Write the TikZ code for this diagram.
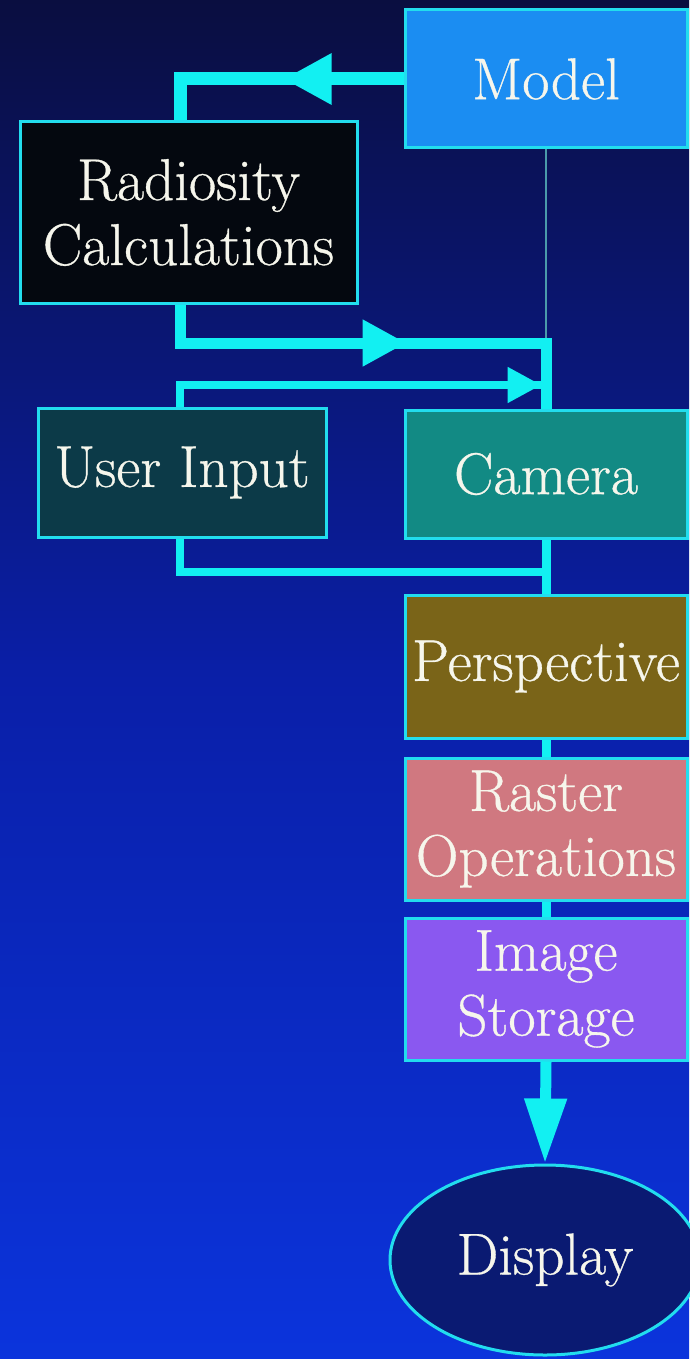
\documentclass[tikz,border=0pt]{standalone}
\usepackage{fontspec}
\newfontfamily\lblfont{Latin Modern Roman}[FakeBold=0.6]
\usetikzlibrary{arrows.meta,shapes.geometric,decorations.markings}
\definecolor{bgtop}{HTML}{0A0E40}
\definecolor{bgmid}{HTML}{0A1FA8}
\definecolor{bgbot}{HTML}{0B34DC}
\definecolor{cyanline}{HTML}{12F0F2}
\definecolor{boxedge}{HTML}{22DDEE}
\definecolor{thinline}{HTML}{4A9AAA}
\definecolor{txt}{HTML}{F6F6EC}
\definecolor{modelfill}{HTML}{1B8DF2}
\definecolor{radfill}{HTML}{04080F}
\definecolor{userfill}{HTML}{0C3A48}
\definecolor{camfill}{HTML}{128A84}
\definecolor{perspfill}{HTML}{7A6418}
\definecolor{rasterfill}{HTML}{D07880}
\definecolor{storfill}{HTML}{8A58F0}
\definecolor{dispfill}{HTML}{0A1A72}
\tikzset{
  lblfontstyle/.style={font=\lblfont\fontsize{59}{65}\selectfont},
  blockbox/.style={rectangle, draw=boxedge, line width=3pt, text=txt, align=center,
    inner sep=0pt, lblfontstyle},
  busline/.style={draw=cyanline, line width=#1},
  busline/.default=10pt,
  midarrow/.style 2 args={postaction={decorate}, decoration={markings,
    mark=at position #1 with {\arrow{Triangle[length=#2,width=#2]}}}},
}
\begin{document}
\begin{tikzpicture}[x=1pt,y=-1pt]
\useasboundingbox (0,0) rectangle (689,1359);
\fill[top color=bgtop, bottom color=bgbot, middle color=bgmid] (0,0) rectangle (689,1359);

% nodes
\node[blockbox, fill=modelfill, minimum width=282pt, minimum height=138pt] (model) at (546,79) {Model};
\node[blockbox, fill=radfill, minimum width=337pt, minimum height=181pt] (rad) at (188.5,212.5) {Radiosity\\Calculations};
\node[blockbox, fill=userfill, minimum width=288pt, minimum height=129pt] (user) at (182,472.5) {User Input};
\node[blockbox, fill=camfill, minimum width=282pt, minimum height=128pt] (cam) at (546,474) {Camera};
\node[blockbox, fill=perspfill, minimum width=282pt, minimum height=143pt] (persp) at (546,666.5) {Perspective};
\node[blockbox, fill=rasterfill, minimum width=282pt, minimum height=142pt] (raster) at (546,829) {Raster\\Operations};
\node[blockbox, fill=storfill, minimum width=282pt, minimum height=142pt] (stor) at (546,989) {Image\\Storage};
\node[ellipse, draw=boxedge, line width=3pt, fill=dispfill, text=txt, inner sep=0pt,
  minimum width=310pt, minimum height=190pt, lblfontstyle] (disp) at (545,1260) {Display};

% junctions
\coordinate (j1) at (546,343);
\coordinate (j2) at (546,385);
\coordinate (j3) at (546,572);

% connectors
\draw[draw=thinline, line width=2pt] (model.south) -- (j1);
\draw[busline=13pt, midarrow={120pt}{48pt}] (model.west) -| ([xshift=-8.5pt]rad.north);
\draw[busline=11pt, midarrow={265pt}{44pt}] ([xshift=-8.5pt]rad.south) |- (j1) -- (cam.north);
\draw[busline=8pt, midarrow={383pt}{34pt}] ([xshift=-2pt]user.north) |- (j2);
\draw[busline=8pt] ([xshift=-2pt]user.south) |- (j3);
\draw[busline=9pt] (cam.south) -- (persp.north);
\draw[busline=9pt] (persp.south) -- (raster.north);
\draw[busline=9pt] (raster.south) -- (stor.north);
\draw[busline=11pt, -{Triangle[length=65pt,width=40pt]}] (stor.south) -- (disp.north);
\end{tikzpicture}
\end{document}
